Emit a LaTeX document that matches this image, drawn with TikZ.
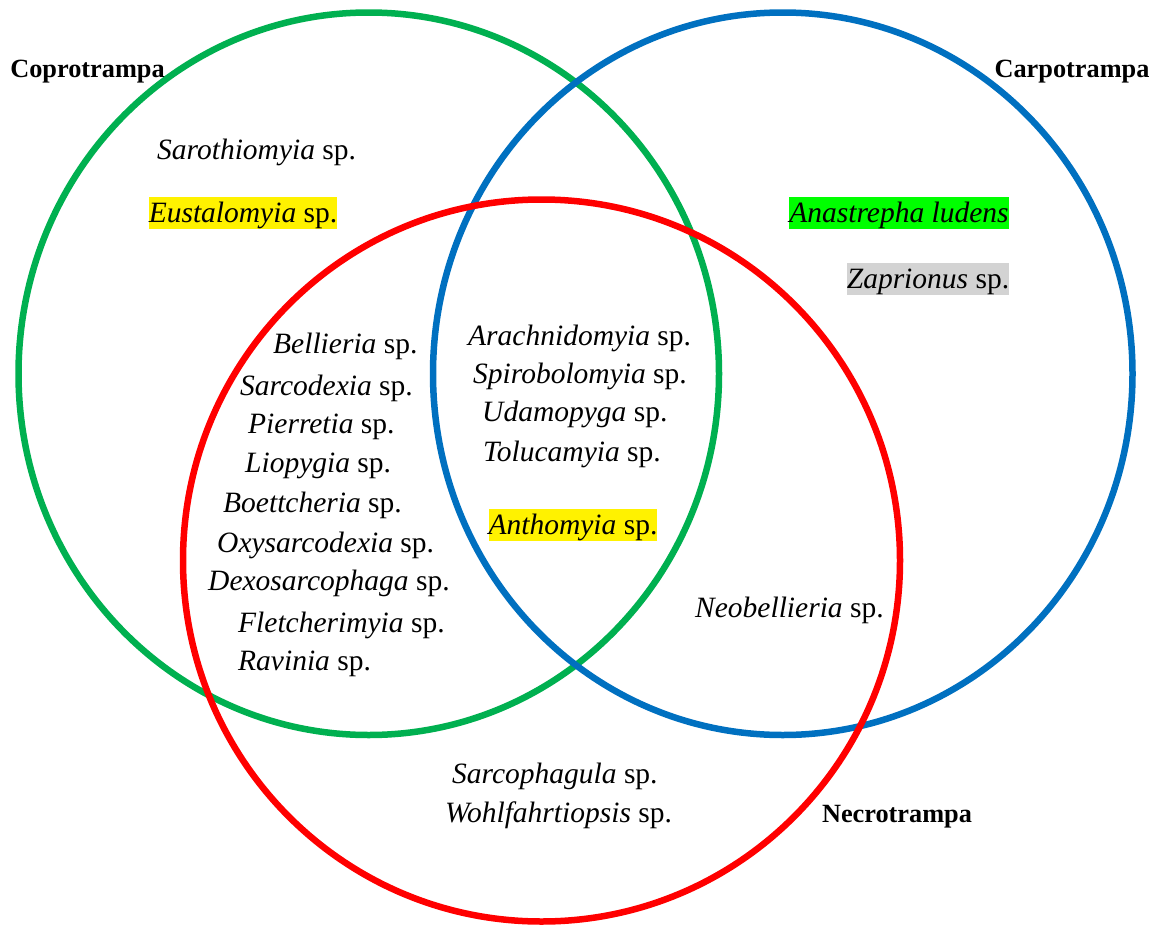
\documentclass[tikz,border=0pt]{standalone}
\usepackage{fontspec}
\setmainfont{Liberation Serif}
\definecolor{copro}{HTML}{00B050}
\definecolor{carpo}{HTML}{0070C0}
\definecolor{necro}{HTML}{FF0000}
\definecolor{hlgray}{HTML}{D3D3D3}
\begin{document}
\begin{tikzpicture}[x = 1pt, y = -1pt,
    spfont/.style = {font = \fontsize{29.5}{35}\selectfont, inner sep = 0pt},
    species/.style = {spfont, anchor = west, yshift = -3pt},
    trap/.style = {font = \fontsize{26.3}{31}\selectfont\bfseries, inner sep = 0pt, yshift = -3pt},
    hilite/.style = {spfont, fill = #1, text height = 26.3pt, text depth = 6.4pt}]
    \useasboundingbox (0, 0) rectangle (1159, 926);
    % the three traps
    \draw [copro, line width = 6.5pt] (368.75, 373.75) ellipse [x radius = 350.25pt, y radius = 361.25pt];
    \draw [carpo, line width = 6.5pt] (782.75, 373.75) ellipse [x radius = 349.75pt, y radius = 361.25pt];
    \draw [necro, line width = 6.5pt] (541.5, 560.5) ellipse [x radius = 358.5pt, y radius = 361pt];
    \node [trap] (copro) at (87.5, 69) {Coprotrampa};
    \node [trap] (carpo) at (1072, 69) {Carpotrampa};
    \node [trap] (necro) at (897, 814) {Necrotrampa};
    % coprotrampa only
    \node [species] (sarothiomyia) at (157, 149) {\textit{Sarothiomyia} sp.};
    \node [hilite = yellow] (eustalomyia) at (243, 213) {\textit{Eustalomyia} sp.};
    % carpotrampa only
    \node [hilite = green] (anastrepha) at (899, 213) {\textit{Anastrepha ludens}};
    \node [hilite = hlgray] (zaprionus) at (928, 279) {\textit{Zaprionus} sp.};
    % copro + necro
    \node [species] (bellieria) at (273, 343) {\textit{Bellieria} sp.};
    \node [species] (sarcodexia) at (240, 385) {\textit{Sarcodexia} sp.};
    \node [species] (pierretia) at (248, 424) {\textit{Pierretia} sp.};
    \node [species] (liopygia) at (245, 463) {\textit{Liopygia} sp.};
    \node [species] (boettcheria) at (223, 502) {\textit{Boettcheria} sp.};
    \node [species] (oxysarcodexia) at (217, 542) {\textit{Oxysarcodexia} sp.};
    \node [species] (dexosarcophaga) at (208, 580) {\textit{Dexosarcophaga} sp.};
    \node [species] (fletcherimyia) at (238, 622) {\textit{Fletcherimyia} sp.};
    \node [species] (ravinia) at (238, 661) {\textit{Ravinia} sp.};
    % all three
    \node [species] (arachnidomyia) at (468, 335) {\textit{Arachnidomyia} sp.};
    \node [species] (spirobolomyia) at (473, 373) {\textit{Spirobolomyia} sp.};
    \node [species] (udamopyga) at (482, 411) {\textit{Udamopyga} sp.};
    \node [species] (tolucamyia) at (483, 451) {\textit{Tolucamyia} sp.};
    \node [hilite = yellow] (anthomyia) at (573, 525) {\textit{Anthomyia} sp.};
    % carpo + necro
    \node [species] (neobellieria) at (695, 607) {\textit{Neobellieria} sp.};
    % necrotrampa only
    \node [species] (sarcophagula) at (452, 773) {\textit{Sarcophagula} sp.};
    \node [species] (wohlfahrtiopsis) at (445, 812) {\textit{Wohlfahrtiopsis} sp.};
\end{tikzpicture}
\end{document}
